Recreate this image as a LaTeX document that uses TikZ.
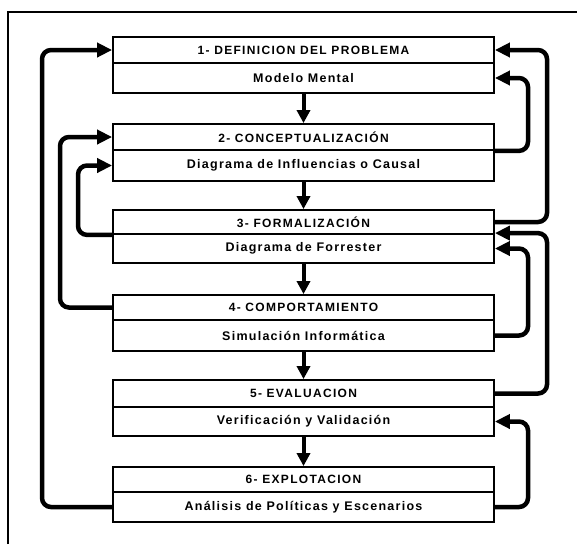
\documentclass[tikz,border=0pt]{standalone}
\usepackage{fontspec}
\usetikzlibrary{arrows.meta}
\newfontfamily\stagefont[LetterSpace=11]{Liberation Sans}
\newfontfamily\notefont[LetterSpace=10]{Liberation Sans}

\tikzset{
  stage/.style={draw, line width=1.8pt, minimum width=381pt, inner sep=0pt,
    font=\stagefont\bfseries\fontsize{12}{14}\selectfont},
  note/.style={draw, line width=1.8pt, minimum width=381pt, inner sep=0pt,
    font=\notefont\bfseries\fontsize{12.5}{14}\selectfont},
  conn/.style={line width=4.5pt, rounded corners=9pt,
    -{Triangle[length=15pt,width=14pt]}},
  down/.style={line width=4pt, -{Triangle[length=13pt,width=13pt]}},
  frame/.style={line width=1.6pt}
}

\begin{document}
\begin{tikzpicture}[x=1pt,y=-1pt]
\useasboundingbox (0,0) rectangle (577,544);

% open frame
\draw[frame] (8,544) -- (8,12) -- (577,12);

% the six stages: heading row and description row
\node[stage, minimum height=26pt] (t1) at (303.5,50)  {1- DEFINICION DEL PROBLEMA};
\node[note,  minimum height=30pt] (s1) at (303.5,78)  {Modelo Mental};
\node[stage, minimum height=26pt] (t2) at (303.5,137) {2- CONCEPTUALIZACIÓN};
\node[note,  minimum height=31pt] (s2) at (303.5,165.5) {Diagrama de Influencias o Causal};
\node[stage, minimum height=24pt] (t3) at (303.5,222) {3- FORMALIZACIÓN};
\node[note,  minimum height=29pt] (s3) at (303.5,248.5) {Diagrama de Forrester};
\node[stage, minimum height=25pt] (t4) at (303.5,307.5) {4- COMPORTAMIENTO};
\node[note,  minimum height=31pt] (s4) at (303.5,335.5) {Simulación Informática};
\node[stage, minimum height=27pt] (t5) at (303.5,393.5) {5- EVALUACION};
\node[note,  minimum height=29pt] (s5) at (303.5,421.5) {Verificación y Validación};
\node[stage, minimum height=25pt] (t6) at (303.5,479.5) {6- EXPLOTACION};
\node[note,  minimum height=30pt] (s6) at (303.5,507) {Análisis de Políticas y Escenarios};

% columns of the feedback loops
\coordinate (lx1) at (42,0);
\coordinate (lx2) at (60,0);
\coordinate (lx3) at (78,0);
\coordinate (rx1) at (528,0);
\coordinate (rx2) at (547,0);

% main sequence
\draw[down] (s1.south) -- (t2.north);
\draw[down] (s2.south) -- (t3.north);
\draw[down] (s3.south) -- (t4.north);
\draw[down] (s4.south) -- (t5.north);
\draw[down] (s5.south) -- (t6.north);

% loops on the left
\draw[conn] (s6.west) -- (s6.west -| lx1) |- (t1.west);
\draw[conn] (t4.west) -- (t4.west -| lx2) |- (t2.west);
\draw[conn] (t3.south west) -- (t3.south west -| lx3) |- (s2.west);

% loops on the right
\draw[conn] (t3.east) -- (t3.east -| rx2) |- (t1.east);
\draw[conn] (t2.south east) -- (t2.south east -| rx1) |- (s1.east);
\draw[conn] (t5.east) -- (t5.east -| rx2) |- (s3.north east);
\draw[conn] (s4.east) -- (s4.east -| rx1) |- (s3.east);
\draw[conn] (s6.east) -- (s6.east -| rx1) |- (s5.east);
\end{tikzpicture}
\end{document}
